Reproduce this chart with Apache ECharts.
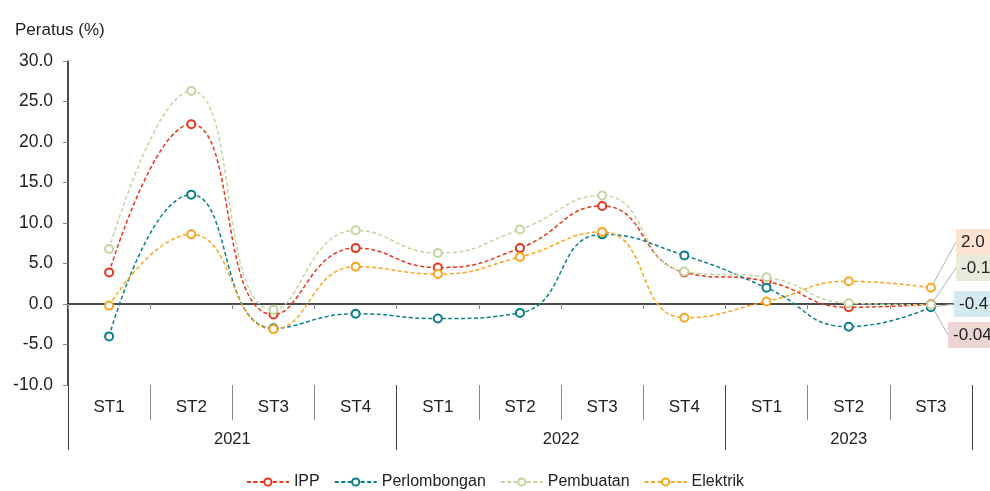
<!DOCTYPE html>
<html lang="en">
<head>
  <meta charset="UTF-8">
  <title>Peratus (%)</title>
  <script src="https://cdnjs.cloudflare.com/ajax/libs/echarts/6.0.0/echarts.min.js"></script>
</head>
<body>
  <style>
    html, body, #chart {
      width: 100%;
      height: 100%;
      margin: 0;
      padding: 0;
      background: #fff;
    }
  </style>
  <div id="chart"></div>
  <script>
    const quarters = ['ST1', 'ST2', 'ST3', 'ST4', 'ST1', 'ST2', 'ST3', 'ST4', 'ST1', 'ST2', 'ST3']
    const years = ['2021', '2022', '2023']
    const yearEdges = [0, 4, 8, 11]
    const yearMids = [2, 6, 9.5]

    const ipp = [3.9, 22.2, -1.3, 6.9, 4.5, 6.9, 12.1, 3.9, 2.8, -0.4, -0.04]
    const perlombongan = [-4.0, 13.5, -3.0, -1.2, -1.8, -1.1, 8.6, 6.0, 2.0, -2.8, -0.4]
    const pembuatan = [6.8, 26.3, -0.7, 9.1, 6.3, 9.2, 13.4, 4.0, 3.3, 0.1, -0.1]
    const elektrik = [-0.2, 8.6, -3.1, 4.6, 3.7, 5.8, 8.9, -1.7, 0.3, 2.8, 2.0]

    const font = '"Liberation Sans", Arial, sans-serif'
    const chart = echarts.init(document.getElementById('chart'))

    // last point label: box colour + where the box sits
    function makeSeries(name, values, color, boxColor, labelY, labelX) {
      const last = values.length - 1
      return {
        name,
        type: 'line',
        xAxisIndex: 0,
        smooth: 0.5,
        symbol: 'circle',
        symbolSize: 8,
        showSymbol: true,
        lineStyle: { color, width: 1.5, type: [4, 2.5] },
        itemStyle: { color: '#fff', borderColor: color, borderWidth: 2 },
        emphasis: { disabled: true },
        data: values.map((v, i) => i === last ? {
          value: v,
          label: {
            show: true,
            formatter: String(v.toFixed(v === -0.04 ? 2 : 1)),
            backgroundColor: boxColor,
            color: '#222',
            fontFamily: font,
            fontSize: 17,
            padding: [5, 10, 4, 5]
          }
        } : v),
        labelLine: { show: true, lineStyle: { color: '#b0b0b0', width: 1 } },
        labelLayout: p => p.dataIndex === last ? { x: labelX, y: labelY, align: 'left', verticalAlign: 'middle' } : {}
      }
    }

    chart.setOption({
      animation: false,
      textStyle: { fontFamily: font },
      title: {
        text: 'Peratus (%)',
        left: 10,
        top: 17,
        textStyle: { fontSize: 17, fontWeight: 'normal', color: '#222', fontFamily: font }
      },
      legend: {
        bottom: -4,
        left: 'center',
        itemWidth: 42,
        itemHeight: 9,
        itemGap: 14,
        textStyle: { fontSize: 16, color: '#222', fontFamily: font },
        data: ['IPP', 'Perlombongan', 'Pembuatan', 'Elektrik']
      },
      grid: { left: 68, right: 18, top: 61, bottom: 106 },
      xAxis: [
        {
          type: 'category',
          data: quarters,
          boundaryGap: true,
          axisLine: { onZero: true, lineStyle: { color: '#111', width: 1.5 } },
          axisTick: { show: true, length: 5, lineStyle: { color: '#888' } },
          axisLabel: { show: false },
          splitLine: { show: false }
        },
        {
          type: 'category',
          data: quarters,
          position: 'bottom',
          boundaryGap: true,
          axisLine: { show: false, onZero: false },
          axisTick: { show: true, length: 35, lineStyle: { color: '#888' } },
          axisLabel: { margin: 14, fontSize: 17, color: '#222', fontFamily: font },
          splitLine: { show: false }
        },
        {
          type: 'value',
          position: 'bottom',
          min: 0,
          max: 11,
          axisLine: { show: false, onZero: false },
          axisTick: { show: true, length: 65, customValues: yearEdges, lineStyle: { color: '#444' } },
          axisLabel: {
            customValues: yearMids,
            margin: 46,
            fontSize: 16.5,
            color: '#222',
            fontFamily: font,
            formatter: v => years[yearMids.indexOf(v)]
          },
          splitLine: { show: false }
        }
      ],
      yAxis: {
        type: 'value',
        min: -10,
        max: 30,
        interval: 5,
        axisLine: { show: true, lineStyle: { color: '#111', width: 1.5 } },
        axisTick: { show: true, length: 5, lineStyle: { color: '#888' } },
        axisLabel: {
          margin: 15,
          fontSize: 17.5,
          color: '#222',
          fontFamily: font,
          formatter: v => v.toFixed(1)
        },
        splitLine: { show: false }
      },
      series: [
        makeSeries('IPP', ipp, '#e5361b', '#ecd5d3', 335, 948),
        makeSeries('Perlombongan', perlombongan, '#087e8b', '#d5e9f1', 304, 954),
        makeSeries('Pembuatan', pembuatan, '#c3d59e', '#e6ebda', 268, 956),
        makeSeries('Elektrik', elektrik, '#f9a51d', '#fce3d1', 242, 956)
      ]
    })
  </script>
</body>
</html>
